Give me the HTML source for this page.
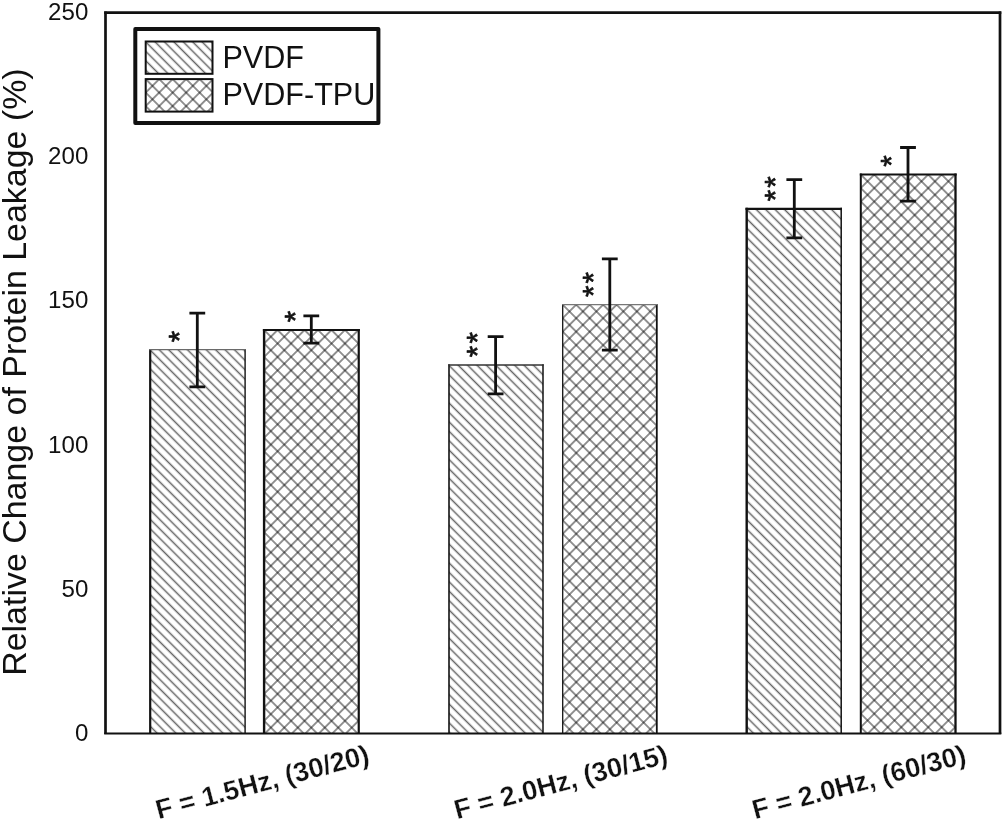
<!DOCTYPE html>
<html>
<head>
<meta charset="utf-8">
<title>Relative Change of Protein Leakage</title>
<style>
  html, body { margin: 0; padding: 0; background: #ffffff; }
  body { width: 1003px; height: 822px; overflow: hidden; font-family: "Liberation Sans", sans-serif; }
  svg { display: block; will-change: transform; }
  text { font-family: "Liberation Sans", sans-serif; fill: #111; }
</style>
</head>
<body>
<svg width="1003" height="822" viewBox="0 0 1003 822">
  <defs>
    <pattern id="hatch" patternUnits="userSpaceOnUse" width="6.65" height="6.65" patternTransform="translate(0 0.4) rotate(-45) translate(-3.325 0)">
      <rect width="6.65" height="6.65" fill="#fff"/>
      <line x1="3.325" y1="-1" x2="3.325" y2="7.65" stroke="#000" stroke-opacity="0.6" stroke-width="1.5"/>
    </pattern>
    <pattern id="cross" patternUnits="userSpaceOnUse" width="9.53" height="9.53" patternTransform="rotate(45) translate(-4.765 -4.765)">
      <rect width="9.53" height="9.53" fill="#fff"/>
      <line x1="4.765" y1="-1" x2="4.765" y2="10.53" stroke="#000" stroke-opacity="0.58" stroke-width="1.45"/>
      <line x1="-1" y1="4.765" x2="10.53" y2="4.765" stroke="#000" stroke-opacity="0.58" stroke-width="1.45"/>
    </pattern>
  </defs>

  <rect x="0" y="0" width="1003" height="822" fill="#ffffff"/>

  <!-- bars -->
  <g stroke="#111" fill="none">
    <g transform="translate(150.2 349.7)"><rect x="0" y="0" width="94.90" height="383.8" fill="url(#hatch)" stroke="none"/><line x1="0" y1="-0.65" x2="0" y2="383.8" stroke-width="2.2"/><line x1="94.90" y1="-0.65" x2="94.90" y2="383.8" stroke-width="1.4"/><line x1="-1.10" y1="0" x2="95.60" y2="0" stroke-width="1.3" stroke="#6a6a6a"/></g>
    <g transform="translate(264.1 330.0)"><rect x="0" y="0" width="94.65" height="403.5" fill="url(#cross)" stroke="none"/><line x1="0" y1="-1.10" x2="0" y2="403.5" stroke-width="2.4"/><line x1="94.65" y1="-1.10" x2="94.65" y2="403.5" stroke-width="2.2"/><line x1="-1.20" y1="0" x2="95.75" y2="0" stroke-width="2.2" stroke="#111"/></g>
    <g transform="translate(449.0 365.0)"><rect x="0" y="0" width="94.00" height="368.5" fill="url(#hatch)" stroke="none"/><line x1="0" y1="-0.70" x2="0" y2="368.5" stroke-width="1.6"/><line x1="94.00" y1="-0.70" x2="94.00" y2="368.5" stroke-width="1.5"/><line x1="-0.80" y1="0" x2="94.75" y2="0" stroke-width="1.4" stroke="#333"/></g>
    <g transform="translate(562.7 304.7)"><rect x="0" y="0" width="94.10" height="428.8" fill="url(#cross)" stroke="none"/><line x1="0" y1="-0.65" x2="0" y2="428.8" stroke-width="1.3"/><line x1="94.10" y1="-0.65" x2="94.10" y2="428.8" stroke-width="1.8"/><line x1="-0.65" y1="0" x2="95.00" y2="0" stroke-width="1.3" stroke="#777"/></g>
    <g transform="translate(746.7 208.9)"><rect x="0" y="0" width="94.50" height="524.6" fill="url(#hatch)" stroke="none"/><line x1="0" y1="-1.10" x2="0" y2="524.6" stroke-width="2.4"/><line x1="94.50" y1="-1.10" x2="94.50" y2="524.6" stroke-width="1.5"/><line x1="-1.20" y1="0" x2="95.25" y2="0" stroke-width="2.2" stroke="#111"/></g>
    <g transform="translate(860.8 174.6)"><rect x="0" y="0" width="94.70" height="558.9" fill="url(#cross)" stroke="none"/><line x1="0" y1="-1.00" x2="0" y2="558.9" stroke-width="2.0"/><line x1="94.70" y1="-1.00" x2="94.70" y2="558.9" stroke-width="2.3"/><line x1="-1.00" y1="0" x2="95.85" y2="0" stroke-width="2.0" stroke="#111"/></g>
  </g>

  <!-- error bars -->
  <g stroke="#111" stroke-width="2.8" fill="none">
    <path d="M197.30 313.1V386.8M189.40 313.1H205.20M189.40 386.8H205.20"/>
    <path d="M311.30 315.8V343.2M303.40 315.8H319.20M303.40 343.2H319.20"/>
    <path d="M495.60 336.6V393.9M487.70 336.6H503.50M487.70 393.9H503.50"/>
    <path d="M609.80 258.9V350.2M601.90 258.9H617.70M601.90 350.2H617.70"/>
    <path d="M794.30 179.6V237.9M786.40 179.6H802.20M786.40 237.9H802.20"/>
    <path d="M908.00 147.5V201.1M900.10 147.5H915.90M900.10 201.1H915.90"/>
  </g>

  <!-- significance stars (rotated with the vertical text direction) -->
  <g font-size="29.5" text-anchor="middle" stroke="#111" stroke-width="0.7" stroke-linejoin="round">
    <text transform="translate(188.55 336.60) rotate(-90)">*</text>
    <text transform="translate(304.65 316.55) rotate(-90)">*</text>
    <text transform="translate(486.70 337.80) rotate(-90)">*</text>
    <text transform="translate(486.70 351.50) rotate(-90)">*</text>
    <text transform="translate(602.80 277.65) rotate(-90)">*</text>
    <text transform="translate(602.80 291.20) rotate(-90)">*</text>
    <text transform="translate(785.40 181.90) rotate(-90)">*</text>
    <text transform="translate(785.40 195.40) rotate(-90)">*</text>
    <text transform="translate(901.40 160.90) rotate(-90)">*</text>
  </g>

  <!-- frame -->
  <g stroke="#111" fill="none">
    <line x1="105.5" y1="11.4" x2="105.5" y2="734" stroke-width="2.7"/>
    <line x1="1000" y1="11.4" x2="1000" y2="734" stroke-width="2.7"/>
    <line x1="104.2" y1="12.7" x2="1001.3" y2="12.7" stroke-width="2.7"/>
    <line x1="104.2" y1="733.5" x2="1001.3" y2="733.5" stroke-width="1.8"/>
  </g>

  <!-- legend -->
  <rect x="135.3" y="29.1" width="243.1" height="93.8" fill="#fff" stroke="#111" stroke-width="4" stroke-linejoin="round"/>
  <g stroke="#111" stroke-width="2">
    <g transform="translate(145.7 41.5)"><rect x="0" y="0" width="66.8" height="32.3" fill="url(#hatch)"/></g>
    <g transform="translate(145.7 79.1)"><rect x="0" y="0" width="66.8" height="32.5" fill="url(#cross)"/></g>
  </g>
  <g font-size="30.6">
    <text transform="translate(222.4 67.6) scale(1 1.035)">PVDF</text>
    <text transform="translate(222.4 105.2) scale(1 1.035)">PVDF-TPU</text>
  </g>

  <!-- y tick labels -->
  <g font-size="24.1" text-anchor="end">
    <text x="88.3" y="19.8">250</text>
    <text x="88.3" y="163.8">200</text>
    <text x="88.3" y="308">150</text>
    <text x="88.3" y="452.5">100</text>
    <text x="88.3" y="596.5">50</text>
    <text x="88.3" y="741">0</text>
  </g>

  <!-- y axis title -->
  <text font-size="33.95" transform="translate(26.0 675.8) rotate(-90)">Relative Change of Protein Leakage (%)</text>

  <!-- x category labels -->
  <g font-size="27.2" font-weight="bold" stroke="#fff" stroke-width="0.3">
    <text transform="translate(158.4 819.2) rotate(-14.9)">F = 1.5Hz, (30/20)</text>
    <text transform="translate(456.9 819.2) rotate(-14.9)">F = 2.0Hz, (30/15)</text>
    <text transform="translate(755.1 819.2) rotate(-14.9)">F = 2.0Hz, (60/30)</text>
  </g>
</svg>
</body>
</html>
